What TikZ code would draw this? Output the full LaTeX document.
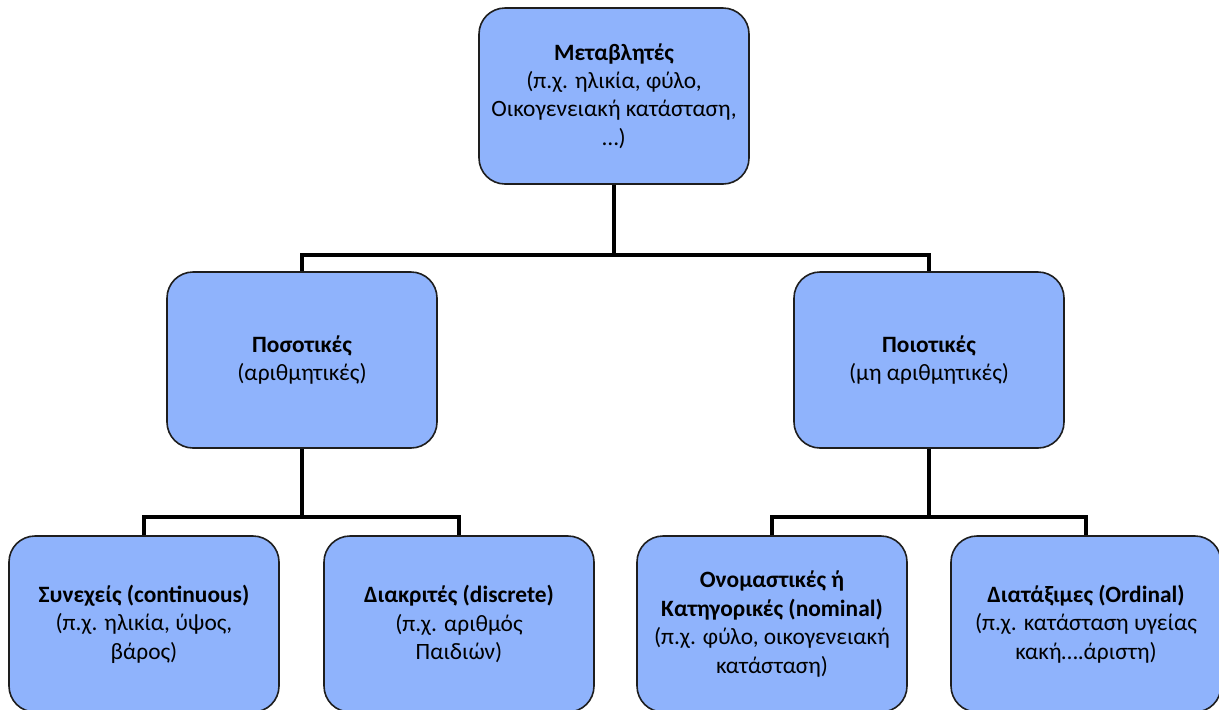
\documentclass[tikz,border=0pt]{standalone}
\usepackage{fontspec}
\setmainfont{Carlito}
\usepackage{tikz}
\usetikzlibrary{positioning,calc,backgrounds}
\usepackage{xcolor}
\definecolor{boxblue}{RGB}{143,179,252}
\definecolor{boxedge}{RGB}{30,30,30}

\begin{document}
\begin{tikzpicture}[
    x=0.5pt, y=-0.5pt,
    varbox/.style={rectangle, rounded corners=13pt, draw=boxedge, line width=0.8pt, fill=boxblue,
                   minimum width=135pt, minimum height=88pt, align=center,
                   font=\fontsize{11.7}{14.2}\selectfont, inner sep=2pt},
    link/.style={line width=2.3pt, color=black}
]
\clip (0,0) rectangle (1219,709);

% Top level
\node[varbox] (var) at (614,96) {\textbf{Μεταβλητές}\\(π.χ. ηλικία, φύλο,\\Οικογενειακή κατάσταση,\\…)};

% Second level
\node[varbox] (quant) at (302,360) {\textbf{Ποσοτικές}\\(αριθμητικές)};
\node[varbox] (qual) at (929,360) {\textbf{Ποιοτικές}\\(μη αριθμητικές)};

% Third level
\node[varbox] (cont) at (144,624) {\textbf{Συνεχείς (continuous)}\\(π.χ. ηλικία, ύψος,\\βάρος)};
\node[varbox] (disc) at (459,624) {\textbf{Διακριτές (discrete)}\\(π.χ. αριθμός\\Παιδιών)};
\node[varbox] (nom) at (772,624) {\textbf{Ονομαστικές ή}\\\textbf{Κατηγορικές (nominal)}\\(π.χ. φύλο, οικογενειακή\\κατάσταση)};
\node[varbox] (ord) at (1086,624) {\textbf{Διατάξιμες (Ordinal)}\\(π.χ. κατάσταση υγείας\\κακή….άριστη)};

% Split points of the tree
\coordinate (split1) at (614,255);
\coordinate (split2) at (302,517);
\coordinate (split3) at (929,517);

% Connectors behind the boxes
\begin{scope}[on background layer]
\fill[white] (0,0) rectangle (1219,709);
\draw[link] (var.center) -- (split1);
\draw[link] (quant.center) |- (split1) -| (qual.center);
\draw[link] (quant.center) -- (split2);
\draw[link] (cont.center) |- (split2) -| (disc.center);
\draw[link] (qual.center) -- (split3);
\draw[link] (nom.center) |- (split3) -| (ord.center);
\end{scope}
\end{tikzpicture}
\end{document}
